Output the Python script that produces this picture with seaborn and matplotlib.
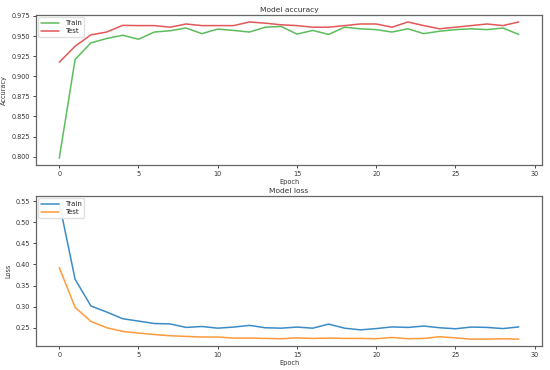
import numpy as np
import pandas as pd
import matplotlib
matplotlib.use('Agg')
import matplotlib.pyplot as plt
import seaborn as sns

# per-epoch history
epochs = list(range(30))
train_acc = [0.798, 0.921, 0.9415, 0.947, 0.951, 0.946, 0.955, 0.9566, 0.960, 0.953,
             0.9587, 0.957, 0.955, 0.961, 0.962, 0.9524, 0.957, 0.952, 0.961, 0.959,
             0.958, 0.955, 0.959, 0.953, 0.956, 0.958, 0.959, 0.958, 0.960, 0.952]
test_acc = [0.9174, 0.9374, 0.9515, 0.955, 0.9633, 0.963, 0.963, 0.961, 0.965, 0.963,
            0.963, 0.963, 0.9675, 0.966, 0.964, 0.963, 0.961, 0.961, 0.963, 0.965,
            0.965, 0.961, 0.9675, 0.963, 0.959, 0.961, 0.963, 0.965, 0.963, 0.9675]
train_loss = [0.546, 0.3648, 0.3015, 0.2872, 0.2714, 0.2658, 0.260, 0.259, 0.2508, 0.253,
              0.249, 0.2516, 0.2556, 0.250, 0.249, 0.2516, 0.249, 0.2587, 0.249, 0.245,
              0.248, 0.252, 0.2508, 0.254, 0.250, 0.2476, 0.2516, 0.2508, 0.248, 0.252]
test_loss = [0.3925, 0.2983, 0.265, 0.250, 0.2413, 0.2373, 0.234, 0.231, 0.2295, 0.228,
             0.228, 0.2255, 0.2255, 0.2247, 0.224, 0.226, 0.2247, 0.2255, 0.2247, 0.2247,
             0.224, 0.227, 0.224, 0.2247, 0.2287, 0.226, 0.223, 0.223, 0.224, 0.223]

sns.set_style('ticks')
plt.rcParams['font.family'] = ['DejaVu Sans']

fig = plt.figure(figsize=(5.5, 3.7), dpi=100)
ax1 = fig.add_axes([0.066, 0.554, 0.919, 0.405])
ax2 = fig.add_axes([0.066, 0.065, 0.919, 0.405])

# Model accuracy
sns.lineplot(x=epochs, y=train_acc, ax=ax1, color='#5cbd5c', linewidth=1.1, label='Train')
sns.lineplot(x=epochs, y=test_acc, ax=ax1, color='#e25858', linewidth=1.1, label='Test')
ax1.set_title('Model accuracy', fontsize=5.4, pad=2.5, color='#333333')
ax1.set_ylabel('Accuracy', fontsize=4.7, labelpad=3, color='#333333')
ax1.set_xlabel('Epoch', fontsize=4.7, labelpad=1.5, color='#333333')

# Model loss
sns.lineplot(x=epochs, y=train_loss, ax=ax2, color='#3a8cc8', linewidth=1.1, label='Train')
sns.lineplot(x=epochs, y=test_loss, ax=ax2, color='#ff9a3c', linewidth=1.1, label='Test')
ax2.set_title('Model loss', fontsize=5.4, pad=2.5, color='#333333')
ax2.set_ylabel('Loss', fontsize=4.7, labelpad=3, color='#333333')
ax2.set_xlabel('Epoch', fontsize=4.7, labelpad=1.5, color='#333333')

for ax in (ax1, ax2):
    ax.legend(loc='upper left', fontsize=5, frameon=True, handlelength=2.6,
              borderaxespad=0.3, framealpha=0.9, edgecolor='#dddddd',
              labelspacing=0.3)
    ax.set_xticks([0, 5, 10, 15, 20, 25, 30])
    ax.tick_params(labelsize=4.7, length=2.5, width=0.6, pad=2, labelcolor='#333333')
    for s in ax.spines.values():
        s.set_color('#666666')
        s.set_linewidth(0.9)

fig.savefig('out.png', dpi=100)
